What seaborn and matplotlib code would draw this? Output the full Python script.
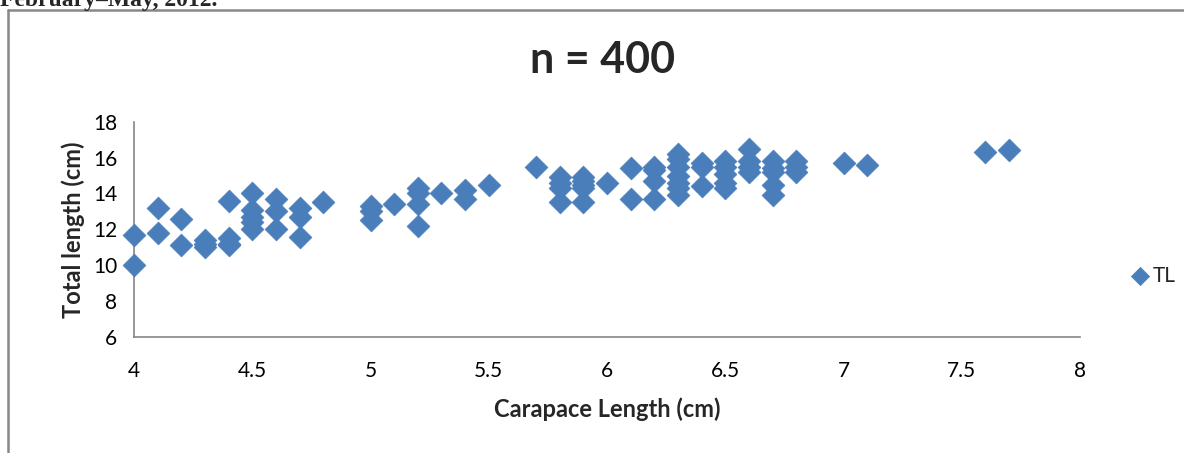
import pandas as pd
import matplotlib.pyplot as plt
import seaborn as sns
from matplotlib.lines import Line2D

# carapace length (cm) and total length (cm)
carapace = [4.0, 4.0,
            4.1, 4.1,
            4.2, 4.2,
            4.3, 4.3, 4.3,
            4.4, 4.4, 4.4, 4.4,
            4.5, 4.5, 4.5, 4.5, 4.5,
            4.6, 4.6, 4.6,
            4.7, 4.7, 4.7,
            4.8,
            5.0, 5.0, 5.0,
            5.1,
            5.2, 5.2, 5.2, 5.2,
            5.3,
            5.4, 5.4,
            5.5,
            5.7,
            5.8, 5.8, 5.8, 5.8,
            5.9, 5.9, 5.9, 5.9, 5.9,
            6.0,
            6.1, 6.1,
            6.2, 6.2, 6.2, 6.2,
            6.3, 6.3, 6.3, 6.3, 6.3, 6.3, 6.3,
            6.4, 6.4, 6.4,
            6.5, 6.5, 6.5, 6.5, 6.5,
            6.6, 6.6, 6.6, 6.6,
            6.7, 6.7, 6.7, 6.7, 6.7,
            6.8, 6.8, 6.8,
            7.0,
            7.1,
            7.6,
            7.7]
total = [11.7, 10.0,
         13.2, 11.8,
         12.6, 11.1,
         11.4, 11.2, 11.0,
         13.6, 11.5, 11.2, 11.1,
         14.0, 13.1, 12.7, 12.4, 12.0,
         13.7, 13.0, 12.0,
         13.2, 12.7, 11.6,
         13.5,
         13.3, 13.0, 12.5,
         13.4,
         14.3, 14.0, 13.4, 12.2,
         14.0,
         14.2, 13.7,
         14.5,
         15.5,
         14.9, 14.6, 14.3, 13.5,
         14.9, 14.7, 14.5, 14.3, 13.5,
         14.6,
         15.4, 13.7,
         15.5, 15.3, 14.7, 13.7,
         16.2, 15.9, 15.5, 15.0, 14.6, 14.3, 13.9,
         15.7, 15.5, 14.4,
         15.8, 15.5, 15.1, 14.6, 14.3,
         16.5, 15.8, 15.5, 15.2,
         15.8, 15.4, 15.2, 14.5, 13.9,
         15.8, 15.5, 15.2,
         15.7,
         15.6,
         16.3,
         16.4]

x_ticks = [4, 4.5, 5, 5.5, 6, 6.5, 7, 7.5, 8]
x_tick_labels = ["4", "4.5", "5", "5.5", "6", "6.5", "7", "7.5", "8"]
y_ticks = [6, 8, 10, 12, 14, 16, 18]

df = pd.DataFrame({"CL": carapace, "TL": total})

sns.set_style("white")
plt.rcParams['font.family'] = ['Lato', 'DejaVu Sans']

fig = plt.figure(figsize=(11.84, 4.53), dpi=100)
ax = fig.add_axes([0.1132, 0.2561, 0.7990, 0.4752])

blue = "#4A7EBB"
sns.scatterplot(data=df, x="CL", y="TL", ax=ax, marker="D", s=135,
                color=blue, edgecolor=blue, linewidth=0.5, label="TL",
                clip_on=False, zorder=3)

ax.set_xlim(4, 8)
ax.set_ylim(6, 18)
ax.set_xticks(x_ticks)
ax.set_xticklabels(x_tick_labels)
ax.set_yticks(y_ticks)

grey = "#868686"
for side in ["top", "right"]:
    ax.spines[side].set_visible(False)
for side in ["left", "bottom"]:
    ax.spines[side].set_color(grey)
    ax.spines[side].set_linewidth(1.2)
ax.tick_params(axis="both", direction="out", length=6, width=1.2,
               color=grey, labelsize=15, labelcolor="black")
ax.tick_params(axis="x", pad=11)
ax.tick_params(axis="y", pad=6)

ax.set_xlabel("Carapace Length (cm)", fontsize=17, fontweight="bold", labelpad=12)
ax.set_ylabel("Total length (cm)", fontsize=17, fontweight="bold", labelpad=6)

fig.text(0.509, 0.867, "n = 400", ha="center", va="center",
         fontsize=31, fontweight="bold")

leg = ax.legend(loc="center left", bbox_to_anchor=(0.947, 0.391),
                bbox_transform=fig.transFigure, frameon=False, fontsize=15,
                handletextpad=0.1, borderaxespad=0, handlelength=1.0,
                markerscale=0.8)

# outer chart frame (left and top edges)
fig.add_artist(Line2D([8 / 1184, 8 / 1184], [0, 1 - 10 / 453],
                      transform=fig.transFigure, color="#888888", lw=1.8))
fig.add_artist(Line2D([8 / 1184, 1], [1 - 10 / 453, 1 - 10 / 453],
                      transform=fig.transFigure, color="#888888", lw=1.8))

# caption cut off at the top of the crop
fig.text(0.0, 1 - 6 / 453, "February\u2013May, 2012.", ha="left", va="baseline",
         fontsize=17, fontweight="bold", family="Liberation Serif")

fig.savefig("out.png", dpi=100)
